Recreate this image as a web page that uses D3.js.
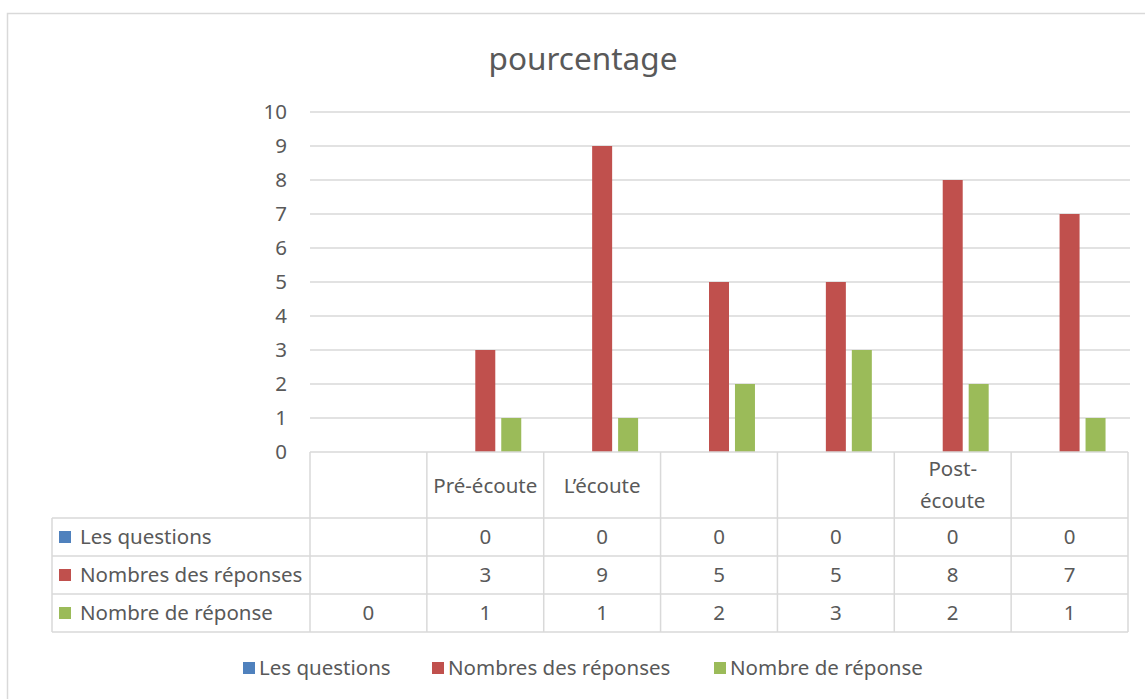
<!DOCTYPE html>
<html>
<head>
<meta charset="utf-8">
<script src="https://cdn.jsdelivr.net/npm/d3@7"></script>
<style>
  body { margin: 0; background: #fff; }
  text { font-family: "Noto Sans", sans-serif; fill: #595959; }
</style>
</head>
<body>
<div id="chart"></div>
<script>
const width = 1145
const height = 699

// data
const categories = ["", "Pré-écoute", "L’écoute", "", "", "Post-écoute", ""]
const seriesNames = ["Les questions", "Nombres des réponses", "Nombre de réponse"]
const lesQuestions = [null, 0, 0, 0, 0, 0, 0]
const nombresDesReponses = [null, 3, 9, 5, 5, 8, 7]
const nombreDeReponse = [0, 1, 1, 2, 3, 2, 1]
const yTicks = [0, 1, 2, 3, 4, 5, 6, 7, 8, 9, 10]
const colors = ["#4F81BD", "#C0504D", "#9BBB59"]

const series = [lesQuestions, nombresDesReponses, nombreDeReponse]

const plot = { left: 310, right: 1128, top: 112, bottom: 452 }
const tableLeft = 52
const headerBottom = 518
const rowH = 38
const gridColor = "#d9d9d9"
const fs = "20.5px"

const svg = d3.select("div#chart").append("svg").attr("width", width).attr("height", height)

// chart frame
svg.append("rect").attr("x", 7.5).attr("y", 13.5).attr("width", 1160).attr("height", 720)
    .attr("fill", "none").attr("stroke", gridColor).attr("stroke-width", 1.5)

svg.append("text").attr("x", 583).attr("y", 70).attr("text-anchor", "middle")
    .style("font-size", "31.5px").text("pourcentage")

const x = d3.scaleBand().domain(d3.range(categories.length)).range([plot.left, plot.right])
const xInner = d3.scaleBand().domain(d3.range(series.length)).range([0, x.bandwidth()])
    .paddingInner(0.23).paddingOuter(0.865)
const y = d3.scaleLinear().domain([0, 10]).range([plot.bottom, plot.top])

// gridlines
const grid = svg.append("g").attr("id", "grid")
grid.selectAll("line").data(yTicks.filter(d => d > 0)).enter().append("line")
    .attr("x1", plot.left).attr("x2", plot.right + 2)
    .attr("y1", d => y(d)).attr("y2", d => y(d))
    .attr("stroke", gridColor).attr("stroke-width", 1.5)

// y tick labels
const yAxis = d3.axisLeft(y).tickValues(yTicks).tickSize(0).tickPadding(23)
const yAxisGroup = svg.append("g").attr("transform", `translate(${plot.left}, 0)`).call(yAxis)
yAxisGroup.select(".domain").remove()
yAxisGroup.selectAll("text").style("font-size", fs).attr("fill", "#595959")

// bars
const barGroup = svg.append("g").attr("id", "bars")
series.forEach((vals, si) => {
    barGroup.selectAll(null).data(vals.map((v, i) => ({ v, i }))).enter()
        .filter(d => d.v !== null).append("rect")
        .attr("x", d => x(d.i) + xInner(si))
        .attr("y", d => y(d.v))
        .attr("width", xInner.bandwidth())
        .attr("height", d => y(0) - y(d.v))
        .attr("fill", colors[si])
})

// data table
const table = svg.append("g").attr("id", "table")
const line = (x1, y1, x2, y2) => table.append("line")
    .attr("x1", x1).attr("y1", y1).attr("x2", x2).attr("y2", y2)
    .attr("stroke", gridColor).attr("stroke-width", 1.5)

line(plot.left, plot.bottom, plot.right, plot.bottom)
d3.range(categories.length + 1).forEach(i => {
    const xx = i < categories.length ? x(i) : plot.right
    line(xx, plot.bottom, xx, headerBottom + rowH * 3)
})
d3.range(4).forEach(r => line(tableLeft, headerBottom + r * rowH, plot.right, headerBottom + r * rowH))
line(tableLeft, headerBottom, tableLeft, headerBottom + rowH * 3)

// header labels (wrap when too wide)
categories.forEach((c, i) => {
    if (!c) return
    const cx = x(i) + x.bandwidth() / 2
    const t = table.append("text").attr("x", cx).attr("y", 493).attr("text-anchor", "middle")
        .style("font-size", fs).text(c)
    if (t.node().getComputedTextLength() > x.bandwidth() - 10 && c.includes("-")) {
        const k = c.indexOf("-") + 1
        t.text(null)
        t.append("tspan").attr("x", cx).attr("y", 476).text(c.slice(0, k))
        t.append("tspan").attr("x", cx).attr("y", 508).text(c.slice(k))
    }
})

// rows
series.forEach((vals, si) => {
    const cy = headerBottom + rowH * si + rowH / 2
    table.append("rect").attr("x", 59).attr("y", cy - 6).attr("width", 12).attr("height", 12).attr("fill", colors[si])
    table.append("text").attr("x", 80).attr("y", cy).attr("dy", "0.35em")
        .style("font-size", fs).text(seriesNames[si])
    vals.forEach((v, i) => {
        if (v === null) return
        table.append("text").attr("x", x(i) + x.bandwidth() / 2).attr("y", cy).attr("dy", "0.35em")
            .attr("text-anchor", "middle").style("font-size", fs).text(v)
    })
})

// legend
const legendX = [243, 432, 714]
const legend = svg.append("g").attr("id", "legend")
seriesNames.forEach((n, i) => {
    legend.append("rect").attr("x", legendX[i]).attr("y", 662).attr("width", 12).attr("height", 12).attr("fill", colors[i])
    legend.append("text").attr("x", legendX[i] + 16).attr("y", 668).attr("dy", "0.35em")
        .style("font-size", fs).text(n)
})
</script>
</body>
</html>
